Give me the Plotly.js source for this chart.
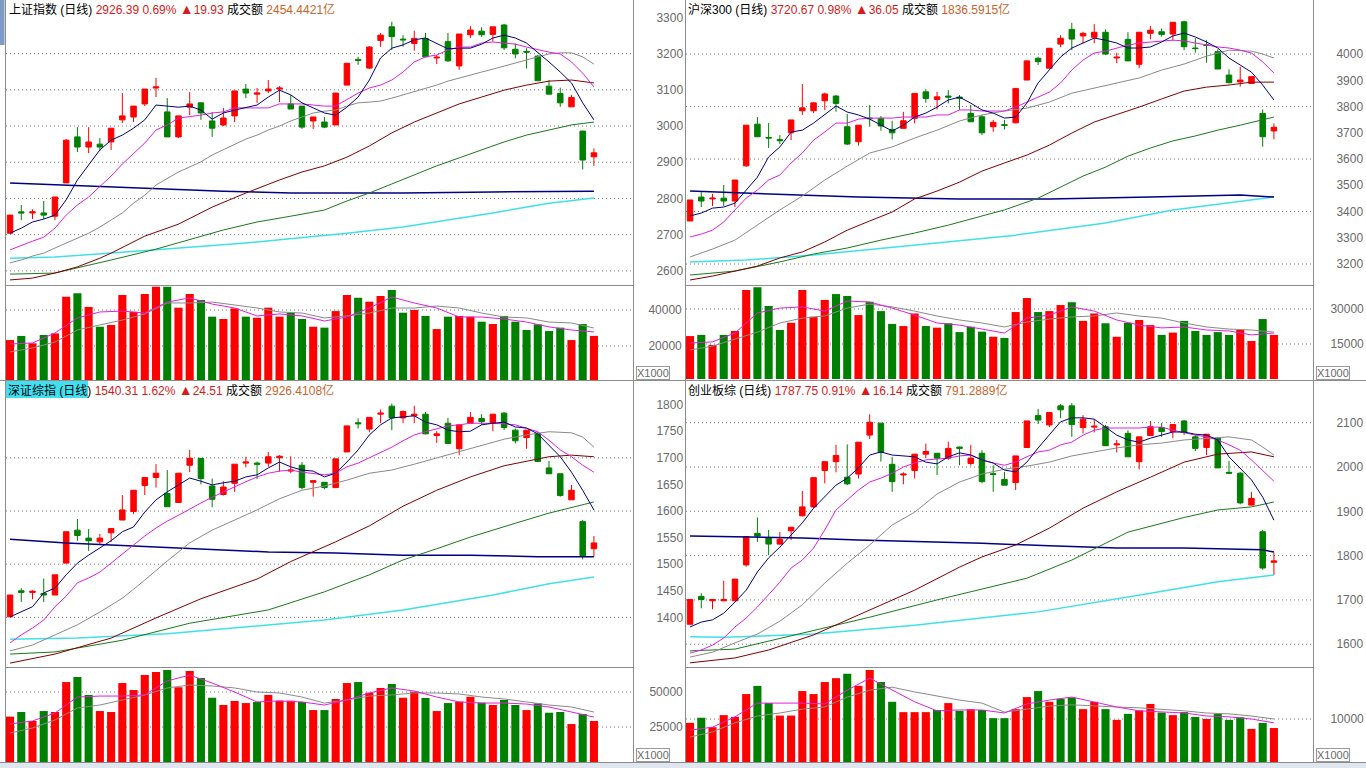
<!DOCTYPE html>
<html><head><meta charset="utf-8">
<script src="https://cdn.plot.ly/plotly-3.0.1.min.js"></script>
<style>html,body{margin:0;padding:0;background:#fff;overflow:hidden}#chart{width:1366px;height:768px}</style>
</head><body><div id="chart"></div>
<script>
// ===================== DATA =====================
// ---- 上证指数 ----
const TL_TITLE = ['上证指数 (日线)', '2926.39 0.69%', '▲19.93', '成交额', '2454.4421亿'];
const TL_OPEN  = [2704,2763,2760,2760,2751,2843,2970,2942,2950,2956,3017,3025,3061,3105,3039,2970,3052,3064,3014,3003,3028,3102,3088,3097,3102,3061,3055,3014,3011,3003,3113,3184,3160,3236,3274,3240,3228,3242,3188,3233,3166,3252,3262,3253,3279,3212,3206,3193,3110,3090,3053,2986,2915];
const TL_HIGH  = [2754,2782,2770,2793,2804,2964,2997,2997,2967,2994,3091,3055,3102,3133,3077,3028,3094,3066,3039,3050,3097,3116,3105,3127,3110,3086,3055,3025,3025,3091,3175,3191,3221,3257,3288,3251,3263,3257,3196,3257,3254,3276,3273,3274,3282,3228,3215,3196,3127,3106,3086,2987,2938];
const TL_LOW   = [2704,2740,2743,2743,2740,2843,2928,2925,2931,2934,3008,3011,3055,3080,2970,2967,3030,3017,2970,3000,3011,3077,3064,3091,3066,3047,2992,2992,2994,3003,3113,3169,3157,3218,3210,3219,3208,3191,3171,3177,3155,3243,3246,3233,3210,3187,3159,3125,3088,3053,3053,2880,2890];
const TL_CLOSE = [2754,2760,2763,2754,2804,2961,2942,2956,2942,2994,3028,3055,3102,3108,2970,3028,3061,3036,2994,3022,3097,3091,3091,3102,3105,3047,2997,3025,2997,3091,3173,3181,3218,3251,3247,3238,3242,3191,3190,3180,3254,3265,3252,3274,3216,3199,3204,3125,3088,3064,3079,2906,2926];
const TL_VOL   = [23300,25600,21500,26100,27000,47400,49300,41700,30700,31700,48300,39000,48900,52900,52900,41300,48900,45600,36300,35000,40900,36300,35700,41300,36300,38500,35000,30700,30200,39400,48300,46800,44600,47800,51100,38500,40000,36700,29400,36300,36700,36300,33500,32200,36700,33500,28900,32000,28300,30200,23300,32200,25600];
const TL_MA5   = [2704,2718,2735,2743,2754,2796,2851,2892,2934,2961,2975,2994,3017,3058,3055,3052,3055,3044,3019,3036,3044,3050,3058,3080,3099,3086,3064,3050,3036,3030,3052,3080,3127,3188,3215,3224,3238,3243,3229,3213,3215,3215,3226,3243,3251,3243,3229,3204,3177,3149,3119,3064,3017];
const TL_MA10  = [2658,2671,2682,2693,2718,2754,2782,2804,2832,2862,2895,2925,2953,2989,3003,3022,3025,3030,3036,3039,3050,3050,3050,3050,3061,3061,3061,3058,3055,3055,3072,3091,3105,3113,3127,3149,3177,3191,3196,3210,3218,3218,3229,3232,3229,3226,3218,3210,3204,3199,3177,3146,3108];
const TL_MA20  = [2622,2630,2641,2649,2663,2677,2691,2704,2721,2740,2760,2787,2809,2837,2856,2873,2887,2901,2920,2934,2950,2964,2975,2989,3000,3014,3025,3036,3041,3044,3055,3064,3066,3069,3077,3086,3094,3102,3113,3124,3133,3141,3149,3157,3166,3174,3182,3191,3199,3202,3202,3191,3171];
const TL_MA_MAROON = [[0,2575],[2,2580],[4,2594],[6,2611],[8,2635],[9,2649],[12,2696],[15,2729],[18,2776],[21,2815],[24,2851],[26,2873],[28,2890],[30,2914],[32,2945],[34,2981],[36,3011],[38,3036],[40,3061],[42,3080],[44,3099],[46,3113],[48,3124],[50,3127],[52,3119]];
const TL_MA_GREEN  = [[0,2591],[4,2594],[9,2630],[13,2660],[19,2713],[22,2735],[25,2751],[28,2768],[30,2793],[32,2815],[34,2840],[36,2865],[38,2890],[40,2912],[42,2934],[44,2956],[46,2975],[48,2989],[50,3003],[52,3011]];
const TL_MA_NAVY   = [[0,2843],[5,2837],[10,2832],[15,2826],[19,2820],[25,2815],[35,2815],[43,2818],[52,2820]];
const TL_MA_CYAN   = [[0,2635],[4,2638],[13,2658],[21,2677],[30,2704],[35,2721],[43,2760],[48,2787],[52,2801]];
const TL_VMA5  = [21100,21700,27200,35600,38900,39400,38300,44400,46700,43300,41100,36700,37800,36700,33900,36100,41100,47200,43900,41100,36100,36100,35000,33300,30600,28900,27800];
const TL_VMA10 = [16700,18900,22200,28900,31700,34400,37800,43900,43900,44400,42800,41100,38900,38300,35600,36700,38300,41100,41100,42200,41100,38300,36100,35600,33300,32800,30000];
const TL_TICKS = [2600,2700,2800,2900,3000,3100,3200,3300];
const TL_GRID  = [2600,2700,2800,2900,3000,3100,3200];
const TL_VTICKS = [20000,40000];

// ---- 沪深300 ----
const TR_TITLE = ['沪深300 (日线)', '3720.67 0.98%', '▲36.05', '成交额', '1836.5915亿'];
const TR_OPEN  = [3364,3455,3448,3451,3440,3574,3733,3682,3674,3700,3784,3784,3822,3840,3723,3666,3756,3755,3713,3717,3755,3856,3827,3840,3836,3774,3761,3723,3731,3738,3901,3984,3946,4038,4094,4069,4064,4083,3985,4056,3961,4079,4085,4076,4123,4023,4035,4009,3920,3894,3888,3774,3707];
const TR_HIGH  = [3444,3474,3467,3501,3520,3729,3760,3737,3691,3749,3886,3816,3853,3844,3771,3729,3806,3764,3746,3780,3850,3866,3856,3863,3844,3806,3768,3749,3749,3869,3976,3990,4024,4072,4119,4085,4114,4094,4005,4083,4083,4107,4098,4121,4127,4060,4053,4018,3942,3952,3914,3789,3736];
const TR_LOW   = [3364,3417,3421,3421,3417,3570,3684,3642,3657,3672,3768,3775,3787,3780,3653,3651,3723,3708,3675,3717,3736,3814,3789,3812,3787,3741,3691,3704,3713,3736,3901,3958,3946,4026,4015,4041,4041,3996,3965,3974,3946,4056,4066,4051,4015,4005,3967,3943,3888,3876,3886,3647,3675];
const TR_CLOSE = [3444,3440,3451,3440,3520,3729,3685,3680,3670,3749,3795,3814,3848,3812,3657,3729,3754,3726,3700,3746,3850,3831,3837,3836,3832,3742,3700,3740,3728,3869,3974,3971,4022,4060,4057,4079,4083,4000,3988,3974,4083,4091,4075,4121,4028,4021,4033,3943,3891,3901,3914,3685,3721];
const TR_VOL   = [18400,18900,14600,18900,20600,38100,39300,31300,21000,24100,38100,26700,33900,36400,35600,27400,33100,29100,23600,22700,28100,22700,22000,23900,20100,22400,20300,18100,17600,28700,34700,28700,29100,31700,32900,24900,28100,23900,18100,24100,25300,23100,18900,19900,24900,20600,18900,20100,18900,21000,16300,25700,18900];
const TR_MA5   = [3383,3394,3413,3417,3432,3482,3531,3608,3646,3703,3710,3737,3768,3802,3779,3768,3752,3729,3707,3729,3760,3775,3798,3825,3836,3813,3787,3775,3756,3760,3813,3890,3939,3989,4023,4042,4061,4053,4042,4023,4023,4027,4046,4069,4080,4065,4046,4023,3985,3958,3931,3882,3825];
const TR_MA10  = [3303,3314,3329,3360,3406,3451,3482,3520,3539,3585,3623,3672,3703,3737,3737,3752,3756,3756,3756,3760,3760,3760,3768,3768,3787,3787,3783,3783,3783,3798,3817,3836,3855,3890,3939,3977,4004,4011,4023,4034,4042,4046,4050,4053,4050,4042,4034,4027,4023,4015,4004,3970,3928];
const TR_MA20  = [[0,3227],[2,3257],[4,3291],[6,3348],[8,3406],[10,3459],[12,3520],[14,3573],[16,3623],[18,3646],[20,3680],[22,3710],[24,3745],[26,3768],[28,3783],[30,3794],[32,3817],[34,3851],[36,3870],[38,3890],[40,3909],[42,3939],[44,3962],[46,3992],[48,4015],[50,4011],[51,4000],[52,3985]];
const TR_MA_MAROON = [[0,3139],[2,3154],[4,3173],[6,3192],[8,3223],[10,3246],[12,3284],[14,3329],[16,3364],[18,3398],[20,3448],[22,3478],[24,3512],[26,3554],[28,3585],[30,3615],[32,3653],[34,3699],[36,3741],[38,3768],[40,3798],[42,3829],[44,3859],[46,3874],[48,3882],[50,3893],[52,3893]];
const TR_MA_GREEN  = [[0,3158],[4,3173],[8,3208],[11,3238],[14,3261],[17,3291],[20,3318],[23,3348],[26,3383],[28,3406],[31,3451],[35,3535],[37,3569],[39,3611],[41,3642],[43,3669],[45,3688],[47,3710],[49,3729],[51,3749],[52,3760]];
const TR_MA_NAVY   = [[0,3478],[7,3467],[15,3455],[24,3448],[32,3448],[41,3455],[49,3463],[52,3455]];
const TR_MA_CYAN   = [[0,3208],[5,3215],[11,3234],[20,3272],[29,3310],[37,3356],[43,3406],[52,3455]];
const TR_VMA5  = [15400,15900,19700,28300,30400,30900,29100,33400,33000,30400,27400,24000,23100,21400,19700,26100,27400,30900,29100,25300,23100,21900,22300,21000,20600,18900,19700];
const TR_VMA10 = [12400,14100,17100,20100,24000,26100,27000,30400,32100,30900,29100,27000,25300,24000,22300,24400,25700,26600,27000,28300,27000,26100,24000,22300,21400,21000,20100];
const TR_TICKS = [3200,3300,3400,3500,3600,3700,3800,3900,4000];
const TR_GRID  = [3200,3400,3600,3800,4000];
const TR_VTICKS = [15000,30000];

// ---- 深证综指 ----
const BL_TITLE = ['深证综指 (日线)', '1540.31 1.62%', '▲24.51', '成交额', '2926.4108亿'];
const BL_OPEN  = [1401,1450,1447,1445,1442,1502,1564,1549,1542,1559,1583,1599,1648,1663,1633,1616,1686,1699,1647,1631,1652,1690,1690,1690,1700,1675,1686,1654,1654,1644,1711,1766,1754,1782,1797,1775,1779,1782,1742,1765,1717,1765,1774,1765,1784,1752,1738,1746,1681,1670,1621,1580,1529];
const BL_HIGH  = [1442,1455,1451,1473,1480,1561,1585,1566,1557,1567,1630,1639,1663,1688,1677,1671,1715,1699,1661,1656,1688,1702,1693,1711,1705,1703,1692,1657,1654,1698,1760,1774,1776,1791,1802,1789,1798,1786,1750,1775,1762,1786,1782,1782,1786,1755,1752,1748,1694,1670,1649,1583,1553];
const BL_LOW   = [1401,1429,1434,1429,1442,1502,1544,1525,1536,1542,1583,1594,1630,1644,1608,1615,1673,1650,1607,1629,1636,1682,1660,1683,1674,1671,1641,1627,1641,1643,1711,1755,1748,1765,1752,1765,1765,1744,1728,1727,1705,1765,1762,1750,1752,1727,1717,1692,1670,1627,1621,1509,1514];
const BL_CLOSE = [1442,1447,1449,1442,1480,1561,1554,1544,1549,1567,1602,1639,1663,1671,1608,1671,1699,1661,1622,1645,1688,1692,1688,1702,1703,1677,1644,1657,1644,1698,1760,1764,1776,1784,1775,1787,1782,1745,1745,1727,1762,1776,1768,1782,1757,1732,1752,1693,1670,1629,1639,1516,1540];
const BL_VOL   = [32400,35700,29300,36400,35700,57100,60700,47900,36400,35700,56400,51400,62100,64300,65700,53400,65000,60000,45900,40700,43600,42100,42900,47900,43800,43800,42900,37100,37100,45000,56400,57100,49500,52900,55700,45900,50200,45700,36400,42100,43100,46600,42400,40700,44300,40700,37100,41900,35200,35700,27100,34300,29300];
const BL_MA5   = [1401,1410,1420,1446,1455,1480,1502,1517,1530,1544,1561,1570,1598,1621,1636,1649,1662,1656,1649,1653,1656,1664,1668,1681,1692,1683,1677,1675,1664,1671,1692,1715,1743,1762,1775,1777,1779,1767,1762,1752,1749,1750,1762,1765,1767,1758,1756,1745,1724,1702,1673,1639,1602];
const BL_MA10  = [1352,1367,1380,1395,1420,1440,1465,1474,1485,1502,1519,1536,1553,1568,1581,1592,1604,1615,1626,1636,1645,1655,1664,1671,1675,1677,1673,1670,1668,1671,1683,1690,1700,1711,1720,1732,1743,1749,1754,1760,1762,1765,1765,1765,1764,1762,1756,1749,1733,1715,1702,1686,1673];
const BL_MA20  = [[0,1337],[2,1348],[4,1367],[6,1386],[8,1410],[10,1436],[12,1470],[14,1506],[16,1540],[18,1564],[20,1583],[22,1602],[24,1623],[26,1639],[28,1647],[30,1658],[32,1671],[34,1677],[36,1688],[38,1700],[40,1711],[42,1724],[44,1735],[46,1743],[48,1749],[50,1747],[51,1739],[52,1720]];
const BL_MA_MAROON = [[0,1314],[4,1331],[9,1361],[13,1399],[17,1435],[22,1472],[25,1505],[29,1542],[32,1572],[35,1609],[38,1639],[41,1664],[44,1685],[46,1694],[48,1702],[50,1705],[52,1702]];
const BL_MA_GREEN  = [[0,1331],[4,1335],[10,1357],[16,1389],[23,1414],[28,1448],[32,1480],[35,1508],[38,1529],[41,1551],[45,1577],[48,1596],[52,1617]];
const BL_MA_NAVY   = [[0,1547],[5,1540],[11,1534],[17,1529],[23,1523],[29,1521],[35,1517],[41,1517],[47,1514],[52,1514]];
const BL_MA_CYAN   = [[0,1359],[6,1361],[14,1369],[21,1382],[28,1395],[35,1414],[43,1442],[48,1463],[52,1476]];
const BL_VMA5  = [27100,29300,35000,46400,47100,47100,47900,57900,62100,56400,50000,42900,43600,42900,40700,44300,49300,52900,50700,46400,42900,42100,42100,41400,39300,35700,32100];
const BL_VMA10 = [20700,24300,30000,38600,40700,44300,47900,52900,55000,54300,52900,50000,49300,46400,42100,44300,47100,47900,49300,49300,48600,46400,45000,42900,40700,39300,35700];
const BL_TICKS = [1400,1450,1500,1550,1600,1650,1700,1750,1800];
const BL_GRID  = [1400,1500,1600,1700];
const BL_VTICKS = [25000,50000];

// ---- 创业板综 ----
const BR_TITLE = ['创业板综 (日线)', '1787.75 0.91%', '▲16.14', '成交额', '791.2889亿'];
const BR_OPEN  = [1645,1708,1698,1698,1698,1779,1850,1840,1826,1856,1890,1910,1992,2012,1977,1984,2072,2099,2006,1982,1992,2029,2031,2020,2045,2008,2031,1985,1972,1965,2044,2116,2095,2138,2138,2089,2090,2091,2050,2076,2012,2071,2089,2080,2104,2068,2044,2065,1988,1986,1914,1854,1785];
const BR_HIGH  = [1701,1715,1701,1743,1747,1843,1886,1858,1853,1864,1946,1976,2012,2050,2051,2056,2119,2099,2023,1988,2029,2053,2031,2057,2046,2050,2038,2004,1989,2025,2104,2131,2123,2142,2144,2117,2108,2095,2061,2083,2068,2104,2099,2096,2106,2072,2074,2068,2014,1989,1944,1858,1807];
const BR_LOW   = [1645,1681,1679,1698,1698,1775,1831,1801,1824,1835,1888,1907,1963,1988,1959,1974,2063,2012,1944,1961,1974,2020,1982,2016,2004,2003,1963,1944,1959,1948,2044,2097,2090,2110,2068,2076,2078,2048,2033,2023,1995,2071,2068,2065,2072,2036,2027,1998,1984,1916,1913,1768,1756];
const BR_CLOSE = [1701,1701,1701,1701,1747,1843,1844,1826,1837,1864,1910,1976,2012,2026,1962,2056,2101,2033,1967,1984,2029,2035,2020,2042,2042,2020,1967,1983,1959,2025,2104,2106,2123,2129,2096,2108,2092,2048,2052,2023,2068,2091,2080,2096,2078,2042,2074,1998,1986,1919,1929,1772,1788];
const BR_VOL   = [9100,10300,8100,10900,10500,15800,17700,13700,10800,10800,16500,15800,18600,19500,20500,17700,21400,18600,14000,11600,11600,11600,12100,13700,11900,12300,12100,10200,10200,12300,15100,16500,14000,14700,15000,12300,14000,12300,9800,11200,12000,13500,11500,10900,11600,10500,10000,11200,9800,10400,7700,9100,7900];
const BR_MA5   = [1639,1650,1655,1670,1695,1722,1763,1795,1819,1847,1874,1907,1932,1959,1975,1998,2027,2034,2027,2025,2023,2011,2007,2023,2032,2027,2016,2009,1993,1989,2011,2043,2072,2102,2111,2111,2108,2090,2072,2061,2056,2065,2072,2079,2079,2074,2072,2061,2023,1998,1971,1932,1880];
const BR_MA10  = [1580,1587,1598,1614,1639,1659,1684,1713,1740,1772,1790,1817,1858,1903,1926,1948,1966,1975,1986,2000,2009,2016,2018,2020,2025,2027,2016,2009,2004,2011,2023,2034,2038,2050,2056,2072,2083,2088,2088,2088,2088,2090,2090,2083,2077,2072,2068,2061,2050,2038,2016,1993,1968];
const BR_MA20  = [[0,1571],[2,1582],[4,1603],[6,1623],[8,1652],[10,1689],[12,1738],[14,1783],[16,1824],[18,1869],[20,1898],[22,1939],[24,1966],[26,1984],[28,1995],[30,2002],[32,2011],[34,2025],[36,2034],[38,2043],[40,2050],[42,2054],[44,2061],[46,2065],[48,2068],[50,2061],[51,2045],[52,2027]];
const BR_MA_MAROON = [[0,1558],[4,1569],[7,1587],[11,1621],[15,1666],[20,1722],[24,1774],[26,1797],[29,1824],[32,1862],[35,1907],[38,1944],[41,1977],[44,2011],[47,2029],[50,2034],[52,2023]];
const BR_MA_GREEN  = [[0,1585],[4,1589],[10,1625],[16,1661],[22,1700],[30,1749],[34,1790],[39,1853],[44,1886],[47,1903],[50,1910],[52,1921]];
const BR_MA_NAVY   = [[0,1844],[5,1842],[10,1840],[15,1835],[23,1831],[26,1828],[32,1822],[38,1817],[44,1817],[51,1813],[52,1808]];
const BR_MA_CYAN   = [[0,1617],[3,1616],[7,1619],[11,1623],[20,1643],[31,1673],[41,1715],[47,1741],[52,1756]];
const BR_VMA5  = [7400,8100,10500,13700,13700,13700,13500,16700,19500,16700,14000,11900,12100,12100,11400,13500,14400,15100,14000,12800,11900,11600,11400,10700,10500,10000,9100];
const BR_VMA10 = [5800,7000,9100,10700,11400,12300,12800,15100,16700,17400,16300,15300,14400,13700,11600,12300,13000,13300,13000,12800,12600,12300,11900,11400,11200,10700,10000];
const BR_TICKS = [1600,1700,1800,1900,2000,2100];
const BR_GRID  = [1600,1700,1800,1900,2000,2100];
const BR_VTICKS = [10000];

// ===================== LAYOUT / STYLE =====================
const W = 1366, H = 768;
const PX = x => x / W, PY = y => 1 - y / H;
const UP = '#ff0000', DOWN = '#008000';
const LINE_STYLE = {
  ma5:{color:'#000080',width:1}, ma10:{color:'#e020e0',width:1}, ma20:{color:'#8a8a8a',width:1},
  maroon:{color:'#800000',width:1}, green:{color:'#1a7a1a',width:1},
  navy:{color:'#000080',width:1.5}, cyan:{color:'#40e0e8',width:1.5},
  vma5:{color:'#e020e0',width:1}, vma10:{color:'#8a8a8a',width:1}
};
const GRID_LINE = {color:'#7a7a7a', width:1, dash:'1px,3px'};
const PANELS = [
  {d:{o:TL_OPEN,h:TL_HIGH,l:TL_LOW,c:TL_CLOSE,v:TL_VOL,ma5:TL_MA5,ma10:TL_MA10,ma20:TL_MA20,maroon:TL_MA_MAROON,green:TL_MA_GREEN,navy:TL_MA_NAVY,cyan:TL_MA_CYAN,vma5:TL_VMA5,vma10:TL_VMA10,ticks:TL_TICKS,grid:TL_GRID,vticks:TL_VTICKS,title:TL_TITLE},
   x0:6,x1:633,y0:0,ys:285,y1:380,xr:[-0.36,55.48],pr:[2561,3348],vr:[1111,53333],plen:20,vlen:12,tx:7,ty:9,hl:false},
  {d:{o:TR_OPEN,h:TR_HIGH,l:TR_LOW,c:TR_CLOSE,v:TR_VOL,ma5:TR_MA5,ma10:TR_MA10,ma20:TR_MA20,maroon:TR_MA_MAROON,green:TR_MA_GREEN,navy:TR_MA_NAVY,cyan:TR_MA_CYAN,vma5:TR_VMA5,vma10:TR_VMA10,ticks:TR_TICKS,grid:TR_GRID,vticks:TR_VTICKS,title:TR_TITLE},
   x0:686,x1:1314,y0:0,ys:285,y1:380,xr:[-0.36,55.57],pr:[3120,4206],vr:[-429,39859],plen:19,vlen:13,tx:686,ty:9,hl:false},
  {d:{o:BL_OPEN,h:BL_HIGH,l:BL_LOW,c:BL_CLOSE,v:BL_VOL,ma5:BL_MA5,ma10:BL_MA10,ma20:BL_MA20,maroon:BL_MA_MAROON,green:BL_MA_GREEN,navy:BL_MA_NAVY,cyan:BL_MA_CYAN,vma5:BL_VMA5,vma10:BL_VMA10,ticks:BL_TICKS,grid:BL_GRID,vticks:BL_VTICKS,title:BL_TITLE},
   x0:6,x1:633,y0:381,ys:667,y1:762,xr:[-0.36,55.48],pr:[1306.7,1844.4],vr:[0,67143],plen:20,vlen:13,tx:6,ty:390,hl:true},
  {d:{o:BR_OPEN,h:BR_HIGH,l:BR_LOW,c:BR_CLOSE,v:BR_VOL,ma5:BR_MA5,ma10:BR_MA10,ma20:BR_MA20,maroon:BR_MA_MAROON,green:BR_MA_GREEN,navy:BR_MA_NAVY,cyan:BR_MA_CYAN,vma5:BR_VMA5,vma10:BR_VMA10,ticks:BR_TICKS,grid:BR_GRID,vticks:BR_VTICKS,title:BR_TITLE},
   x0:686,x1:1314,y0:381,ys:667,y1:762,xr:[-0.36,55.57],pr:[1548.6,2194.1],vr:[0,21863],plen:19,vlen:13,tx:686,ty:390,hl:false}
];

function toXY(arr){
  if (Array.isArray(arr[0])) return {x:arr.map(p=>p[0]), y:arr.map(p=>p[1])};
  return {x:arr.map((_,i)=>i), y:arr};
}
function evenXY(arr){ return {x:arr.map((_,k)=>2*k), y:arr}; }
function ax(n, kind){ return (n===1 ? kind : kind+n); }
function axKey(n, kind){ return (n===1 ? kind+'axis' : kind+'axis'+n); }

const traces = [], shapes = [], annotations = [];
const layout = {width:W, height:H, margin:{l:0,r:0,t:0,b:0}, paper_bgcolor:'#ffffff', plot_bgcolor:'rgba(0,0,0,0)', showlegend:false, hovermode:false};
const tickFont = {family:'Liberation Sans, Arial, sans-serif', size:12, color:'#6a6a6a'};

PANELS.forEach((P, k) => {
  const a = 2*k+1, b = 2*k+2;
  const d = P.d;
  const idx = d.c.map((_,i)=>i);
  [a,b].forEach(n => {
    layout[axKey(n,'x')] = {domain:[PX(P.x0),PX(P.x1)], range:P.xr, anchor:ax(n,'y'), showgrid:false, zeroline:false,
      showticklabels:false, ticks:'', showline:false, rangeslider:{visible:false}, fixedrange:true};
  });
  layout[axKey(a,'y')] = {domain:[PY(P.ys),PY(P.y0)], range:P.pr, anchor:ax(a,'x'), side:'right', tickmode:'array',
    tickvals:d.ticks, ticktext:d.ticks.map(String), ticks:'outside', ticklen:P.plen, tickcolor:'rgba(0,0,0,0)',
    showgrid:false, zeroline:false, showline:false, tickfont:tickFont, fixedrange:true};
  layout[axKey(b,'y')] = {domain:[PY(P.y1),PY(P.ys+1)], range:P.vr, anchor:ax(b,'x'), side:'right', tickmode:'array',
    tickvals:d.vticks, ticktext:d.vticks.map(String), ticks:'outside', ticklen:P.vlen, tickcolor:'rgba(0,0,0,0)',
    showgrid:false, zeroline:false, showline:false, tickfont:tickFont, fixedrange:true};
  d.grid.forEach(g => shapes.push({type:'line', xref:ax(a,'x')+' domain', x0:0, x1:1, yref:ax(a,'y'), y0:g, y1:g, line:GRID_LINE, layer:'below'}));
  d.vticks.forEach(g => shapes.push({type:'line', xref:ax(b,'x')+' domain', x0:0, x1:1, yref:ax(b,'y'), y0:g, y1:g, line:GRID_LINE, layer:'below'}));
  traces.push({type:'candlestick', x:idx, open:d.o, high:d.h, low:d.l, close:d.c, xaxis:ax(a,'x'), yaxis:ax(a,'y'),
    increasing:{line:{color:UP,width:1}, fillcolor:UP}, decreasing:{line:{color:DOWN,width:1}, fillcolor:DOWN},
    whiskerwidth:0, hoverinfo:'skip'});
  ['cyan','navy','green','maroon','ma20','ma10','ma5'].forEach(key => {
    const s = toXY(d[key]);
    traces.push({type:'scatter', mode:'lines', x:s.x, y:s.y, xaxis:ax(a,'x'), yaxis:ax(a,'y'), line:LINE_STYLE[key], hoverinfo:'skip'});
  });
  traces.push({type:'bar', x:idx, y:d.v, xaxis:ax(b,'x'), yaxis:ax(b,'y'), width:0.72,
    marker:{color:d.c.map((c,i)=> c>=d.o[i] ? UP : DOWN), line:{width:0}}, hoverinfo:'skip'});
  ['vma10','vma5'].forEach(key => {
    const s = evenXY(d[key]);
    traces.push({type:'scatter', mode:'lines', x:s.x, y:s.y, xaxis:ax(b,'x'), yaxis:ax(b,'y'), line:LINE_STYLE[key], hoverinfo:'skip'});
  });
  const t = d.title;
  if (P.hl) shapes.push({type:'rect', xref:'paper', yref:'paper', x0:PX(5), x1:PX(88), y0:PY(398), y1:PY(381), fillcolor:'#3fe0f2', line:{width:0}, layer:'above'});
  const chg = t[2].replace('▲', '<span style="font-size:14px">▲</span>');
  annotations.push({xref:'paper', yref:'paper', x:PX(P.tx), y:PY(P.ty), xanchor:'left', yanchor:'middle', showarrow:false,
    font:{family:'Liberation Sans, Noto Sans CJK SC, sans-serif', size:12, color:'#000'},
    text: t[0] + ' <span style="color:#d41c1c">' + t[1] + '</span> <span style="color:#d41c1c">' + chg + '</span> ' + t[3] +
          ' <span style="color:#c8642c">' + t[4] + '</span>'});
  const bx = P.x1 + (k%2===0 ? 3 : 2);
  annotations.push({xref:'paper', yref:'paper', x:PX(bx), y:PY(P.y1), xanchor:'left', yanchor:'bottom', showarrow:false,
    text:'X1000', font:{family:'Liberation Sans, Arial, sans-serif', size:11, color:'#6a6a6a'}, bordercolor:'#9a9a9a', borderwidth:1, borderpad:0, bgcolor:'#ffffff'});
});

function pline(x0,y0,x1,y1,color){ shapes.push({type:'line', xref:'paper', yref:'paper', x0:PX(x0), y0:PY(y0), x1:PX(x1), y1:PY(y1), line:{color:color||'#8c8c8c', width:1}, layer:'above'}); }
shapes.push({type:'rect', xref:'paper', yref:'paper', x0:0, x1:PX(4.5), y0:PY(45), y1:1, fillcolor:'#7d9bc4', line:{width:0}});
shapes.push({type:'rect', xref:'paper', yref:'paper', x0:0, x1:1, y0:0, y1:PY(763), fillcolor:'#dfe6ef', line:{width:0}});
pline(5.5,0,5.5,762); pline(633.5,0,633.5,762); pline(685.5,0,685.5,762); pline(1313.5,0,1313.5,762);
pline(5,285.5,633.5,285.5); pline(685.5,285.5,1313.5,285.5);
pline(0,380.5,1366,380.5);
pline(5,667.5,633.5,667.5); pline(685.5,667.5,1313.5,667.5);
pline(0,762.5,1366,762.5);

layout.shapes = shapes;
layout.annotations = annotations;
Plotly.newPlot('chart', traces, layout, {staticPlot:true, displayModeBar:false});
</script></body></html>
